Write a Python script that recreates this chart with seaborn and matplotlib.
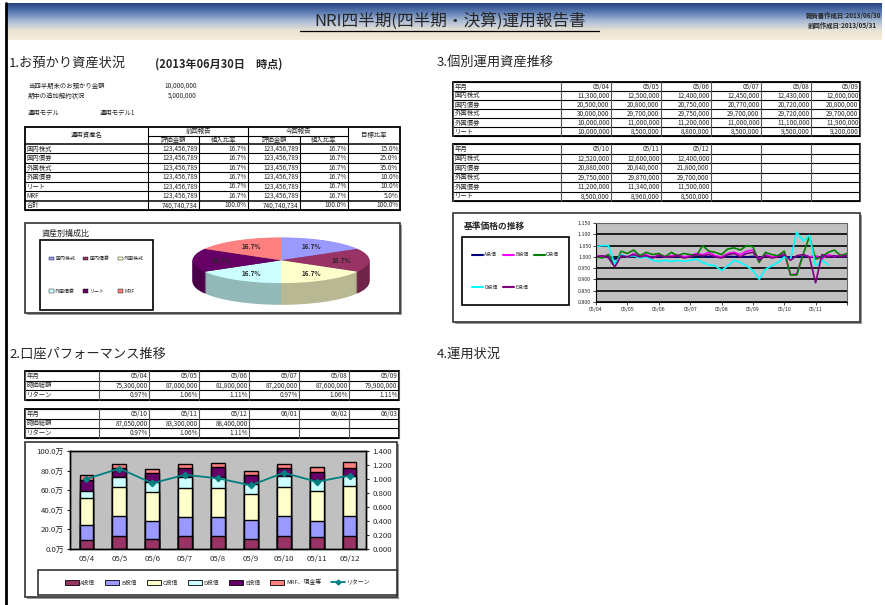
import numpy as np
import pandas as pd
import matplotlib.pyplot as plt
from matplotlib.colors import LinearSegmentedColormap, to_rgb
from matplotlib.patches import Rectangle, Patch
from matplotlib.lines import Line2D
from matplotlib.ticker import FuncFormatter, MultipleLocator
import seaborn as sns

# ---- 1. お預かり資産状況 ----
asset_names = ['国内株式', '国内債券', '外国株式', '外国債券', 'リート', 'MRF']
prev_amounts = [123456789, 123456789, 123456789, 123456789, 123456789, 123456789]
curr_amounts = [123456789, 123456789, 123456789, 123456789, 123456789, 123456789]
target_ratio = [15.0, 25.0, 35.0, 10.0, 10.0, 5.0]
asset_colors = ['#9999FF', '#993366', '#FFFFCC', '#CCFFFF', '#660066', '#FF8080']

# ---- 3. 個別運用資産推移 ----
asset_months = ['05/04', '05/05', '05/06', '05/07', '05/08', '05/09', '05/10', '05/11', '05/12']
asset_rows = ['国内株式', '国内債券', '外国株式', '外国債券', 'リート']
domestic_stock = [11300000, 12500000, 12400000, 12450000, 12430000, 12600000, 12520000, 12600000, 12400000]
domestic_bond = [20500000, 20800000, 20750000, 20770000, 20720000, 20800000, 20880000, 20840000, 21800000]
foreign_stock = [30000000, 29700000, 29750000, 29700000, 29720000, 29700000, 29750000, 29870000, 29700000]
foreign_bond = [10000000, 11000000, 11200000, 11000000, 11100000, 11900000, 11200000, 11340000, 11500000]
reit = [10000000, 8500000, 8800000, 8500000, 9500000, 9200000, 8500000, 8960000, 8500000]

# 基準価格の推移 (5 points per month from 05/04)
fund_names = ['A投信', 'B投信', 'C投信', 'D投信', 'E投信']
fund_line_colors = ['#000080', '#FF00FF', '#008000', '#00FFFF', '#800080']
nav_month = np.arange(41) / 5
nav_a = [1.000, 1.002, 0.998, 0.990, 1.003, 1.000, 1.002, 0.999, 1.001, 1.000, 0.998,
         1.001, 1.000, 1.002, 0.999, 1.000, 1.001, 1.003, 1.000, 0.999, 1.000, 1.002,
         1.001, 0.999, 1.000, 1.002, 0.998, 1.001, 1.000, 0.999, 1.002, 0.998, 1.001,
         1.000, 0.999, 1.001, 1.000, 1.002, 0.999, 1.001, 1.000]
nav_b = [1.005, 1.000, 1.010, 0.960, 1.010, 1.000, 1.015, 1.005, 1.010, 0.995, 1.010,
         1.000, 1.005, 1.010, 1.000, 1.005, 1.015, 1.010, 1.020, 1.005, 1.000, 1.015,
         1.020, 1.010, 1.025, 1.030, 0.990, 1.010, 1.000, 1.005, 1.020, 0.920, 0.925,
         1.010, 1.000, 1.005, 0.990, 1.010, 1.000, 1.010, 1.005]
nav_c = [1.000, 0.995, 1.010, 0.960, 1.025, 1.015, 1.030, 1.005, 1.020, 1.010, 1.015,
         1.000, 1.020, 1.005, 1.015, 1.010, 1.005, 1.050, 1.025, 1.020, 1.010, 1.035,
         1.040, 1.030, 1.050, 1.045, 0.975, 1.020, 1.010, 1.005, 1.025, 0.920, 0.920,
         1.010, 1.090, 0.990, 1.000, 1.020, 1.030, 1.005, 1.015]
nav_d = [1.045, 1.050, 1.050, 0.965, 1.010, 1.000, 1.005, 0.995, 1.000, 0.985, 0.980,
         0.985, 0.980, 0.985, 0.980, 0.985, 0.990, 0.975, 0.965, 0.960, 0.940, 0.960,
         0.985, 0.975, 0.960, 0.940, 0.900, 0.945, 0.960, 0.975, 1.000, 0.990, 1.110,
         1.070, 1.095, 0.960, 0.985, 0.965, np.nan, np.nan, np.nan]
nav_e = [1.000, 1.005, 0.995, 0.955, 1.005, 1.000, 1.010, 1.000, 1.005, 0.995, 1.005,
         1.000, 1.000, 1.005, 0.995, 1.000, 1.010, 1.005, 1.010, 1.000, 0.995, 1.010,
         1.015, 1.000, 1.015, 1.020, 0.985, 1.005, 0.995, 1.000, 1.010, 0.985, 1.005,
         1.010, 1.000, 0.885, 1.010, 1.000, 1.005, 1.000, 1.005]
nav_ticks = ['05/04', '05/05', '05/06', '05/07', '05/08', '05/09', '05/10', '05/11', '']

# ---- 2. 口座パフォーマンス推移 ----
perf_months = ['05/04', '05/05', '05/06', '05/07', '05/08', '05/09',
               '05/10', '05/11', '05/12', '06/01', '06/02', '06/03']
market_value = [75300000, 87000000, 81800000, 87200000, 87600000, 79900000,
                87050000, 83300000, 88400000]
return_pct = [0.97, 1.06, 1.11, 0.97, 1.06, 1.11, 0.97, 1.06, 1.11]

bar_months = ['05/4', '05/5', '05/6', '05/7', '05/8', '05/9', '05/10', '05/11', '05/12']
bar_labels = ['A投信', 'B投信', 'C投信', 'D投信', 'E投信', 'MRF、現金等']
bar_colors = ['#993366', '#9999FF', '#FFFFCC', '#CCFFFF', '#660066', '#FF8080']
fund_a = [9.5, 13.0, 10.5, 13.0, 13.0, 10.5, 13.0, 12.0, 13.0]
fund_b = [15.5, 20.5, 18.0, 20.0, 20.0, 19.5, 20.5, 17.0, 21.0]
fund_c = [27.5, 29.5, 29.5, 29.5, 29.5, 26.5, 29.5, 30.5, 30.0]
fund_d = [7.0, 10.0, 10.0, 10.5, 10.5, 10.0, 11.0, 10.5, 11.0]
fund_e = [10.5, 10.0, 9.5, 9.5, 10.5, 9.0, 8.5, 9.0, 8.0]
fund_mrf = [5.3, 4.0, 4.3, 4.7, 4.1, 4.4, 4.55, 4.3, 5.4]
return_index = [1.00, 1.15, 0.94, 1.06, 1.01, 0.91, 1.09, 0.96, 1.05]

sns.set_theme(style="white")
plt.rcParams['font.family'] = ['Noto Sans CJK JP', 'DejaVu Sans']
plt.rcParams['axes.unicode_minus'] = False

W, H = 885, 605
fig = plt.figure(figsize=(8.85, 6.05), dpi=100)
fig.patch.set_facecolor('white')

bg = fig.add_axes([0, 0, 1, 1], zorder=-1)
bg.axis('off')


def add_ax(x0, y0, x1, y1):
    return fig.add_axes([x0 / W, 1 - y1 / H, (x1 - x0) / W, (y1 - y0) / H])


def shade(c, f):
    r, g, b = to_rgb(c)
    return (r * f, g * f, b * f)


def chart_box(x0, y0, x1, y1):
    bg.add_patch(Rectangle((x0 + 2, y0 + 2), x1 - x0, y1 - y0, fc='#9A9A9A', ec='none'))
    bg.add_patch(Rectangle((x0, y0), x1 - x0, y1 - y0, fc='white', ec='#333333', lw=1.2))


def table(x_edges, y_top, row_h, rows, fs=4.6):
    n = len(rows)
    y_bot = y_top + n * row_h
    for k in range(n + 1):
        y = y_top + k * row_h
        bg.plot([x_edges[0], x_edges[-1]], [y, y], color='black', lw=0.8)
    for x in x_edges:
        bg.plot([x, x], [y_top, y_bot], color='#555555', lw=0.8)
    bg.add_patch(Rectangle((x_edges[0], y_top), x_edges[-1] - x_edges[0], y_bot - y_top,
                           fill=False, ec='black', lw=1.3))
    for r, row in enumerate(rows):
        yc = y_top + (r + 0.5) * row_h
        for c, txt in enumerate(row):
            if c == 0:
                bg.text(x_edges[0] + 1.5, yc, txt, ha='left', va='center', fontsize=fs)
            else:
                bg.text(x_edges[c + 1] - 1.5, yc, txt, ha='right', va='center', fontsize=fs)


# ---- header ----
grad = np.linspace(0, 1, 100).reshape(-1, 1)
hdr_cmap = LinearSegmentedColormap.from_list('hdr', ['#27467F', '#5C7DB5', '#AFBFD6', '#E9E3D4', '#F6EEDA'])
bg.imshow(grad, extent=(6, 882, 40, 3), aspect='auto', cmap=hdr_cmap, zorder=0)
bg.text(450, 21, 'NRI四半期(四半期・決算)運用報告書', ha='center', va='center', fontsize=12)
bg.plot([300, 599], [31, 31], color='black', lw=0.9)
bg.text(881, 15, '報告書作成日:2013/06/30', ha='right', va='center', fontsize=4.6, fontweight='bold')
bg.text(877, 25, '前回作成日:2013/05/31', ha='right', va='center', fontsize=4.6, fontweight='bold')
bg.plot([6, 6], [3, 605], color='black', lw=2)

# ---- section 1 ----
bg.text(9, 63, '1.お預かり資産状況', ha='left', va='center', fontsize=9.5)
bg.text(155, 64, '(2013年06月30日　時点)', ha='left', va='center', fontsize=8, fontweight='bold')
bg.text(28, 86, '当四半期末のお預かり金額', ha='left', va='center', fontsize=4.6)
bg.text(197, 86, f'{10000000:,}', ha='right', va='center', fontsize=4.6)
bg.text(28, 96, '期中の追加解約状況', ha='left', va='center', fontsize=4.6)
bg.text(197, 96, f'{5000000:,}', ha='right', va='center', fontsize=4.6)
bg.text(28, 113, '運用モデル', ha='left', va='center', fontsize=4.6)
bg.text(100, 113, '運用モデル1', ha='left', va='center', fontsize=4.6)

cx = [25, 148, 199, 248, 300, 348, 400]
t_top, t_mid, t_hdr = 127, 135.5, 144
row_h = 66 / 7
t_bot = t_hdr + 7 * row_h
for k in range(8):
    y = t_hdr + k * row_h
    bg.plot([cx[0], cx[-1]], [y, y], color='black', lw=1.1 if k in (0, 6) else 0.8)
bg.plot([cx[1], cx[5]], [t_mid, t_mid], color='black', lw=0.8)
for x in (cx[1], cx[3], cx[5]):
    bg.plot([x, x], [t_top, t_bot], color='black', lw=0.8)
for x in (cx[2], cx[4]):
    bg.plot([x, x], [t_mid, t_bot], color='black', lw=0.8)
bg.add_patch(Rectangle((cx[0], t_top), cx[-1] - cx[0], t_bot - t_top, fill=False, ec='black', lw=1.3))
bg.text((cx[0] + cx[1]) / 2, (t_top + t_hdr) / 2, '運用資産名', ha='center', va='center', fontsize=4.6)
bg.text((cx[1] + cx[3]) / 2, (t_top + t_mid) / 2, '前回報告', ha='center', va='center', fontsize=4.6)
bg.text((cx[3] + cx[5]) / 2, (t_top + t_mid) / 2, '今回報告', ha='center', va='center', fontsize=4.6)
bg.text((cx[5] + cx[6]) / 2, (t_top + t_hdr) / 2, '目標比率', ha='center', va='center', fontsize=4.6)
for c, lab in zip((1, 2, 3, 4), ('評価金額', '組入比率', '評価金額', '組入比率')):
    bg.text((cx[c] + cx[c + 1]) / 2, (t_mid + t_hdr) / 2, lab, ha='center', va='center', fontsize=4.6)
prev_total, curr_total = sum(prev_amounts), sum(curr_amounts)
body = [[n, f'{p:,}', f'{p / prev_total * 100:.1f}%', f'{q:,}', f'{q / curr_total * 100:.1f}%', f'{t:.1f}%']
        for n, p, q, t in zip(asset_names, prev_amounts, curr_amounts, target_ratio)]
body.append(['合計', f'{prev_total:,}', '100.0%', f'{curr_total:,}', '100.0%', f'{sum(target_ratio):.1f}%'])
for r, row in enumerate(body):
    yc = t_hdr + (r + 0.5) * row_h
    bg.text(cx[0] + 1.5, yc, row[0], ha='left', va='center', fontsize=4.6)
    for c in range(1, 6):
        bg.text(cx[c + 1] - 1.5, yc, row[c], ha='right', va='center', fontsize=4.6)

# pie chart box
chart_box(25, 223, 400, 313)
bg.text(42, 233, '資産別構成比', ha='left', va='center', fontsize=5.8)
bg.add_patch(Rectangle((40, 240), 113, 70, fc='white', ec='black', lw=1.2))
ax_pie = add_ax(190, 234, 372, 308)
for d in np.linspace(0.95, 0.02, 32):
    ax_pie.pie(curr_amounts, colors=[shade(c, 0.72) for c in asset_colors], startangle=90,
               counterclock=False, center=(0, -d), wedgeprops=dict(linewidth=0))
ax_pie.pie(curr_amounts, colors=asset_colors, startangle=90, counterclock=False,
           autopct='%.1f%%', pctdistance=0.68, wedgeprops=dict(linewidth=0),
           textprops=dict(fontsize=4.6, fontweight='bold'))
ax_pie.set_aspect('auto')
ax_pie.set_xlim(-1.03, 1.03)
ax_pie.set_ylim(-2.09, 1.15)
ax_pie.axis('off')
order = [0, 3, 1, 4, 2, 5]
fig.legend([Patch(fc=asset_colors[i], ec='black', lw=0.3) for i in order],
           [asset_names[i] for i in order], loc='center',
           bbox_to_anchor=(96.5 / W, 1 - 275 / H), ncol=3, frameon=False, fontsize=3.6,
           handlelength=1.0, handleheight=0.8, handletextpad=0.3, columnspacing=1.6,
           labelspacing=5.5)

# ---- section 3 ----
bg.text(437, 63, '3.個別運用資産推移', ha='left', va='center', fontsize=9.5)
ax3_edges = [453, 561, 611, 661, 711, 761, 811, 860]
series = [domestic_stock, domestic_bond, foreign_stock, foreign_bond, reit]
rows_a = [['年月'] + asset_months[:6]] + [[n] + [f'{v:,}' for v in s[:6]] for n, s in zip(asset_rows, series)]
rows_b = [['年月'] + asset_months[6:] + ['', '', '']] + \
         [[n] + [f'{v:,}' for v in s[6:]] + ['', '', ''] for n, s in zip(asset_rows, series)]
table(ax3_edges, 82, 9.0, rows_a)
table(ax3_edges, 144, 9.5, rows_b)

chart_box(453, 213, 860, 322)
bg.text(464, 226, '基準価格の推移', ha='left', va='center', fontsize=6.3, fontweight='bold')
bg.add_patch(Rectangle((462, 237), 107, 68, fc='white', ec='black', lw=1.2))
ax_nav = add_ax(596, 223, 847, 302)
nav_df = pd.DataFrame({
    'month': np.tile(nav_month, 5),
    'nav': np.concatenate([nav_a, nav_b, nav_c, nav_d, nav_e]),
    'fund': np.repeat(fund_names, len(nav_month)),
})
sns.lineplot(data=nav_df, x='month', y='nav', hue='fund', palette=dict(zip(fund_names, fund_line_colors)),
             estimator=None, linewidth=1.2, legend=False, ax=ax_nav)
ax_nav.set_facecolor('#C0C0C0')
ax_nav.set_xlim(0, 8)
ax_nav.set_ylim(0.8, 1.15)
ax_nav.yaxis.set_major_locator(MultipleLocator(0.05))
ax_nav.yaxis.set_major_formatter(FuncFormatter(lambda v, p: f'{v:.3f}'))
ax_nav.set_xticks(range(9))
ax_nav.set_xticklabels(nav_ticks)
ax_nav.grid(axis='y', color='black', lw=1.2)
ax_nav.set_axisbelow(True)
ax_nav.tick_params(labelsize=3.8, length=2, width=0.6, pad=1.5, direction='out', bottom=True, left=True)
ax_nav.set_xlabel('')
ax_nav.set_ylabel('')
for s in ax_nav.spines.values():
    s.set_color('#666666')
    s.set_linewidth(0.8)
ax_nav.spines['bottom'].set_color('black')
ax_nav.spines['left'].set_color('black')
lorder = [0, 3, 1, 4, 2]
fig.legend([Line2D([], [], color=fund_line_colors[i], lw=1.5) for i in lorder],
           [fund_names[i] for i in lorder], loc='center',
           bbox_to_anchor=(515.5 / W, 1 - 271 / H), ncol=3, frameon=False, fontsize=3.6,
           handlelength=2.2, handletextpad=0.3, columnspacing=1.0, labelspacing=5.5)

# ---- section 2 ----
bg.text(9, 354, '2.口座パフォーマンス推移', ha='left', va='center', fontsize=9.5)
bg.text(437, 354, '4.運用状況', ha='left', va='center', fontsize=9.5)
ax2_edges = [25, 99, 149, 199, 249, 299, 349, 399]
mv_txt = [f'{v:,}' for v in market_value] + [''] * 3
rt_txt = [f'{v:.2f}%' for v in return_pct] + [''] * 3
table(ax2_edges, 371, 9.5, [['年月'] + perf_months[:6], ['時価総額'] + mv_txt[:6], ['リターン'] + rt_txt[:6]])
table(ax2_edges, 409, 9.5, [['年月'] + perf_months[6:], ['時価総額'] + mv_txt[6:], ['リターン'] + rt_txt[6:]])

chart_box(25, 442, 397, 597)
ax_bar = add_ax(70, 451, 366, 549)
cum = np.cumsum([fund_a, fund_b, fund_c, fund_d, fund_e, fund_mrf], axis=0)
for k in range(5, -1, -1):
    sns.barplot(x=bar_months, y=cum[k], color=bar_colors[k], width=0.42, saturation=1,
                edgecolor='black', linewidth=1.0, errorbar=None, ax=ax_bar)
ax_bar.set_facecolor('#C0C0C0')
ax_bar.set_xlim(-0.5, 8.5)
ax_bar.set_ylim(0, 100)
ax_bar.yaxis.set_major_locator(MultipleLocator(20))
ax_bar.yaxis.set_major_formatter(FuncFormatter(lambda v, p: f'{v:.1f}万'))
ax_bar.tick_params(labelsize=5.6, length=2.5, width=0.8, pad=2, direction='out', bottom=False, left=True)
ax_bar.set_xlabel('')
ax_bar.set_ylabel('')
ax_r = ax_bar.twinx()
ax_r.plot(range(len(bar_months)), return_index, color='#008080', lw=1.3, marker='D', ms=3.2)
ax_r.set_ylim(0, 1.4)
ax_r.yaxis.set_major_locator(MultipleLocator(0.2))
ax_r.yaxis.set_major_formatter(FuncFormatter(lambda v, p: f'{v:.3f}'))
ax_r.tick_params(labelsize=5.6, length=2.5, width=0.8, pad=2, direction='out', right=True)
ax_r.grid(False)
for a in (ax_bar, ax_r):
    for s in a.spines.values():
        s.set_color('black')
        s.set_linewidth(1.0)

bg.add_patch(Rectangle((38, 570), 359, 25, fc='white', ec='#333333', lw=1.2))
bar_handles = [Patch(fc=c, ec='black', lw=0.6) for c in bar_colors]
bar_handles.append(Line2D([], [], color='#008080', lw=1.3, marker='D', ms=2.5))
fig.legend(bar_handles, bar_labels + ['リターン'], loc='center',
           bbox_to_anchor=(217.5 / W, 1 - 582.5 / H), ncol=7, frameon=False, fontsize=4.2,
           handlelength=2.4, handleheight=0.7, handletextpad=0.3, columnspacing=1.7)

bg.set_xlim(0, W)
bg.set_ylim(H, 0)

fig.savefig('out.png', dpi=100)
